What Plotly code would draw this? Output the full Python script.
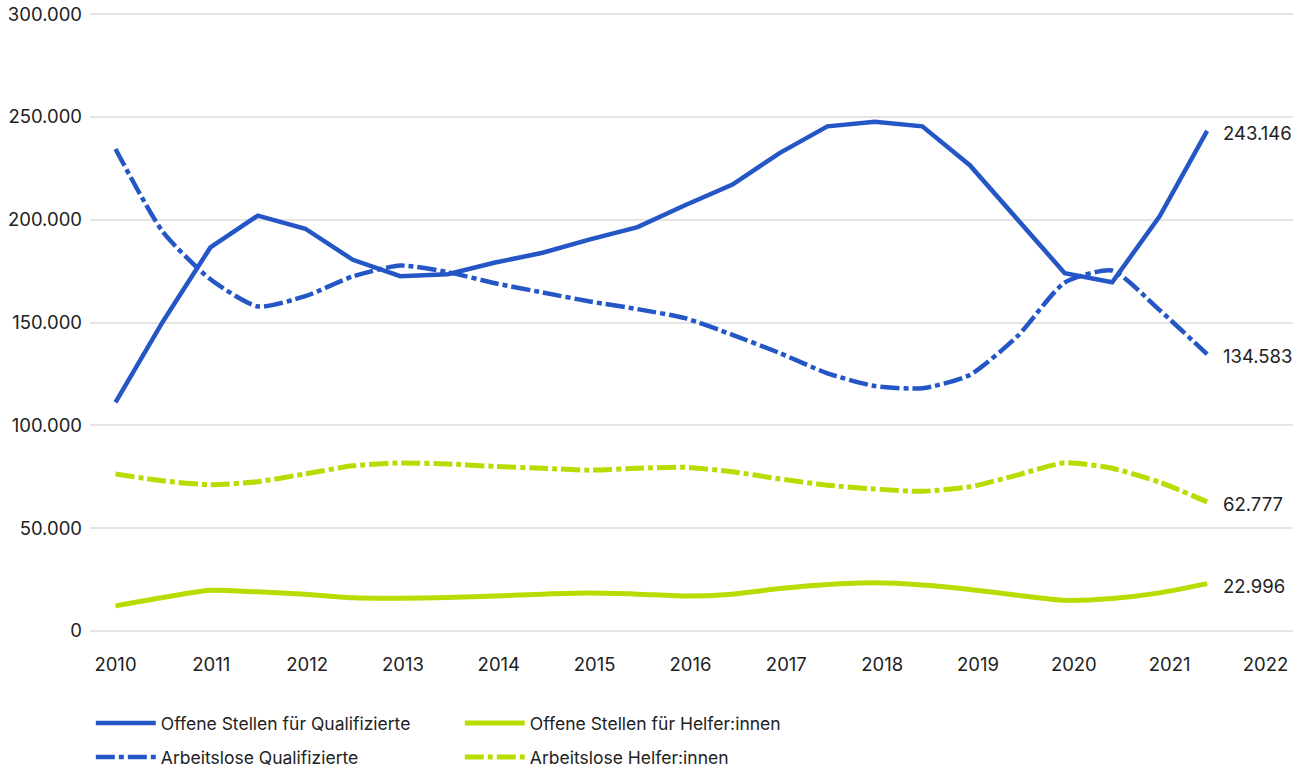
import plotly.graph_objects as go

# Half-year periods (24 observations)
periods = [f"{y}-H{h}" for y in range(2010, 2022) for h in (1, 2)]

offene_qualifizierte = [111200, 150500, 186500, 202000, 195600, 180500, 172500, 173500,
                        179200, 183900, 190400, 196400, 207000, 217100, 232500, 245400,
                        247600, 245400, 226500, 200300, 174000, 169600, 201600, 243146]
arbeitslose_qualifizierte = [234400, 194000, 171000, 157800, 162800, 172400, 177700, 174500,
                             169100, 164600, 160200, 156500, 152100, 144000, 135100, 125300,
                             119100, 118000, 124500, 143200, 169400, 175300, 156000, 134583]
offene_helfer = [12200, 16300, 19800, 19000, 17900, 16100, 15900, 16300,
                 17000, 17900, 18400, 17900, 17000, 17900, 20600, 22600,
                 23400, 22300, 20200, 17400, 14900, 15800, 18500, 22996]
arbeitslose_helfer = [76300, 73000, 71100, 72600, 76400, 80300, 81700, 81200,
                      80000, 79100, 78200, 79100, 79600, 77400, 73900, 70900,
                      69000, 67900, 70100, 75800, 81800, 79100, 72300, 62777]

years = list(range(2010, 2023))
y_ticks = [0, 50000, 100000, 150000, 200000, 250000, 300000]

BLUE = "#2456c6"
GREEN = "#b9dc00"
FONT = "Inter"
TXT = "#222222"
DASHDOT = "19px,4px,5px,4px"

fig = go.Figure()
fig.add_trace(go.Scatter(x=periods, y=offene_qualifizierte, mode="lines",
                         name="Offene Stellen für Qualifizierte",
                         line=dict(color=BLUE, width=4.5), legend="legend"))
fig.add_trace(go.Scatter(x=periods, y=offene_helfer, mode="lines",
                         name="Offene Stellen für Helfer:innen",
                         line=dict(color=GREEN, width=5, shape="spline", smoothing=0.6),
                         legend="legend"))
fig.add_trace(go.Scatter(x=periods, y=arbeitslose_qualifizierte, mode="lines",
                         name="Arbeitslose Qualifizierte",
                         line=dict(color=BLUE, width=4.5, dash=DASHDOT, shape="spline", smoothing=0.6),
                         legend="legend2"))
fig.add_trace(go.Scatter(x=periods, y=arbeitslose_helfer, mode="lines",
                         name="Arbeitslose Helfer:innen",
                         line=dict(color=GREEN, width=5, dash=DASHDOT, shape="spline", smoothing=0.6),
                         legend="legend2"))
# empty trace that only activates the year axis (draws nothing)
fig.add_trace(go.Scatter(x=[years[0], years[-1]], y=[None, None], xaxis="x2", yaxis="y",
                         mode="lines", showlegend=False, hoverinfo="skip"))

def fmt(v):
    return f"{v:,}".replace(",", ".")

annotations = []
for series in (offene_qualifizierte, arbeitslose_qualifizierte, arbeitslose_helfer, offene_helfer):
    annotations.append(dict(x=periods[-1], y=series[-1], xref="x", yref="y",
                            text=fmt(series[-1]), showarrow=False, xanchor="left",
                            yanchor="middle", xshift=14, yshift=-2,
                            font=dict(family=FONT, size=18.5, color=TXT)))

legend_common = dict(orientation="h", xref="container", yref="container",
                     xanchor="left", yanchor="middle", entrywidth=294,
                     entrywidthmode="pixels", itemwidth=60,
                     font=dict(family=FONT, size=17.5, color=TXT),
                     bgcolor="rgba(0,0,0,0)", tracegroupgap=0)

fig.update_layout(
    width=1307, height=773,
    margin=dict(l=90, r=14, t=12, b=140, autoexpand=False),
    paper_bgcolor="white", plot_bgcolor="white",
    separators=",.",
    font=dict(family=FONT, size=17, color=TXT),
    showlegend=True,
    legend=dict(**legend_common, x=0.0695, y=1 - 723 / 773),
    legend2=dict(**legend_common, x=0.0695, y=1 - 757 / 773),
    annotations=annotations,
    xaxis=dict(type="category", categoryorder="array", categoryarray=periods,
               range=[-0.537, 24.81], showgrid=False, showticklabels=False,
               zeroline=False, showline=False, ticks=""),
    xaxis2=dict(overlaying="x", anchor="y", side="bottom", range=[2009.734, 2022.287],
                tickmode="array", tickvals=years, ticktext=[str(y) for y in years],
                showgrid=False, zeroline=False, showline=False, ticks="",
                ticklabelstandoff=18,
                tickfont=dict(family=FONT, size=18.5, color=TXT)),
    yaxis=dict(range=[-1000, 301000], tickmode="array", tickvals=y_ticks,
               tickformat=",d", showgrid=True, gridcolor="#e4e4e4", gridwidth=1.5,
               zeroline=False, showline=False, ticks="",
               ticklabelstandoff=7,
               tickfont=dict(family=FONT, size=18.5, color=TXT)),
    hovermode=False,
)

fig.write_html("out.html", config={"displayModeBar": False},
               post_script="document.body.style.margin='0';")
